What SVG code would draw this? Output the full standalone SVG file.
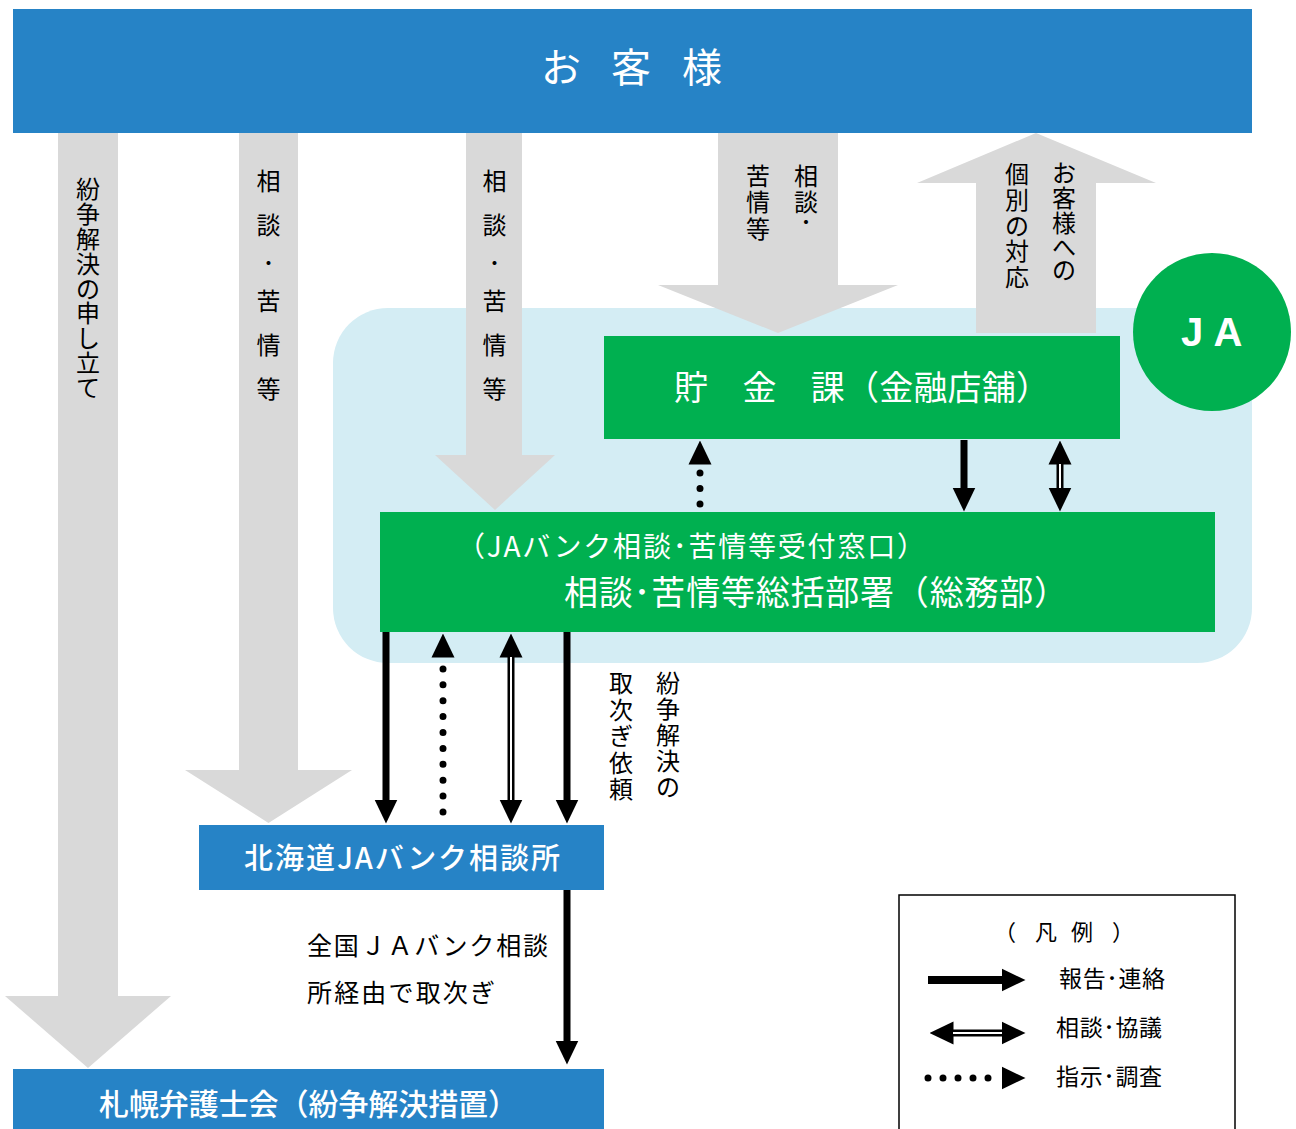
<svg xmlns="http://www.w3.org/2000/svg" width="1296" height="1129" viewBox="0 0 1296 1129">
<defs>
<style>
.t{font-family:'Noto Sans CJK JP','Noto Sans CJK SC',sans-serif;}
.w{fill:#fff}
.k{fill:#000}
.m{text-anchor:middle}
.gray{fill:#D9D9D9}
.blue{fill:#2683C6}
.green{fill:#00B050}
.sh{stroke:#000;stroke-width:7;fill:none}
.dblw{stroke:#fff;stroke-width:2;fill:none}
.dot{stroke:#000;stroke-width:7;stroke-linecap:round;fill:none}
</style>
<marker id="ah" viewBox="0 0 24 24" refX="0.5" refY="12" markerWidth="24" markerHeight="24" markerUnits="userSpaceOnUse" orient="auto-start-reverse">
<path d="M0,0.5 L24,12 L0,23.5 Z" fill="#000"/>
</marker>
</defs>
<rect width="1296" height="1129" fill="#fff"/>

<g id="ja-area">
<rect x="333" y="308" width="919" height="355" rx="55" fill="#D4EDF4"/>
</g>

<g id="customer">
<rect class="blue" x="13" y="9" width="1239" height="124"/>
<text class="t w m" font-size="40"><tspan x="561" y="82">お</tspan><tspan x="631" y="82">客</tspan><tspan x="702" y="82">様</tspan></text>
</g>

<g id="flow-arrows">
<polygon class="gray" points="58,133 118,133 118,996 171,996 88,1068 5,996 58,996"/>
<text class="t k m" font-size="24"><tspan x="88" y="198">紛</tspan><tspan x="88" y="223">争</tspan><tspan x="88" y="248">解</tspan><tspan x="88" y="273">決</tspan><tspan x="88" y="298">の</tspan><tspan x="88" y="322">申</tspan><tspan x="88" y="347">し</tspan><tspan x="88" y="372">立</tspan><tspan x="88" y="397">て</tspan></text>

<polygon class="gray" points="239,133 298,133 298,770 352,770 268.5,823 185,770 239,770"/>
<text class="t k m" font-size="24"><tspan x="268.5" y="190">相</tspan><tspan x="268.5" y="234">談</tspan><tspan x="268.5" y="272">･</tspan><tspan x="268.5" y="310">苦</tspan><tspan x="268.5" y="354">情</tspan><tspan x="268.5" y="398">等</tspan></text>

<polygon class="gray" points="466,133 522,133 522,455 555,455 495,510 435,455 466,455"/>
<text class="t k m" font-size="24"><tspan x="494.5" y="190">相</tspan><tspan x="494.5" y="234">談</tspan><tspan x="494.5" y="272">･</tspan><tspan x="494.5" y="310">苦</tspan><tspan x="494.5" y="354">情</tspan><tspan x="494.5" y="398">等</tspan></text>

<polygon class="gray" points="718,133 838,133 838,285 898,285 778,333 658,285 718,285"/>
<text class="t k m" font-size="24"><tspan x="806" y="185">相</tspan><tspan x="806" y="211">談</tspan><tspan x="806" y="231">･</tspan></text>
<text class="t k m" font-size="24"><tspan x="758" y="185">苦</tspan><tspan x="758" y="211">情</tspan><tspan x="758" y="238">等</tspan></text>

<polygon class="gray" points="1036,133 1156,183 1096,183 1096,333 976,333 976,183 917,183"/>
<text class="t k m" font-size="24"><tspan x="1064" y="182">お</tspan><tspan x="1064" y="207">客</tspan><tspan x="1064" y="232">様</tspan><tspan x="1064" y="256">へ</tspan><tspan x="1064" y="279">の</tspan></text>
<text class="t k m" font-size="24"><tspan x="1017" y="183">個</tspan><tspan x="1017" y="209">別</tspan><tspan x="1017" y="235">の</tspan><tspan x="1017" y="260">対</tspan><tspan x="1017" y="286">応</tspan></text>
</g>

<g id="ja">
<circle class="green" cx="1212" cy="332" r="79"/>
<text font-family="'Liberation Sans',Arial,sans-serif" font-weight="bold" font-size="40" class="w m"><tspan x="1192" y="346">J</tspan><tspan x="1228" y="346">A</tspan></text>
</g>

<g id="chokin">
<rect class="green" x="604" y="336" width="516" height="103"/>
<text class="t w" font-size="34" x="674" y="400" textLength="376">貯　金　課（金融店舗）</text>
</g>

<g id="soukatsu">
<rect class="green" x="380" y="512" width="835" height="120"/>
<text class="t w" font-size="28" x="457" y="557" textLength="468">（JAバンク相談･苦情等受付窓口）</text>
<text class="t w" font-size="34" x="564" y="605" textLength="504">相談･苦情等総括部署（総務部）</text>
</g>

<g id="hokkaido">
<rect class="blue" x="199" y="825" width="405" height="65"/>
<text class="t w" font-size="29" font-weight="500" x="244" y="869" textLength="316">北海道JAバンク相談所</text>
</g>

<g id="sapporo">
<rect class="blue" x="13" y="1069" width="591" height="60"/>
<text class="t w" font-size="30" font-weight="500" x="99" y="1115" textLength="419">札幌弁護士会（紛争解決措置）</text>
</g>

<g id="connectors">
<path class="dot" d="M700 504 V472" stroke-dasharray="0 15.5"/>
<path d="M700 466 V464" stroke="none" marker-end="url(#ah)"/>
<path class="sh" d="M964 440 V488" marker-end="url(#ah)"/>
<path class="sh" d="M1060 464 V488" marker-start="url(#ah)" marker-end="url(#ah)"/>
<path class="dblw" d="M1060 464 V488"/>

<path class="sh" d="M386 632 V800" marker-end="url(#ah)"/>
<path class="dot" d="M443 812 V668" stroke-dasharray="0 15.9"/>
<path d="M443 659 V657" stroke="none" marker-end="url(#ah)"/>
<path class="sh" d="M511 657 V800" marker-start="url(#ah)" marker-end="url(#ah)"/>
<path class="dblw" d="M511 657 V800"/>
<path class="sh" d="M567 632 V800" marker-end="url(#ah)"/>

<path class="sh" d="M567 890 V1041" marker-end="url(#ah)"/>
</g>

<g id="labels">
<text class="t k m" font-size="24"><tspan x="668" y="692">紛</tspan><tspan x="668" y="718">争</tspan><tspan x="668" y="744">解</tspan><tspan x="668" y="770">決</tspan><tspan x="668" y="796">の</tspan></text>
<text class="t k m" font-size="24"><tspan x="621" y="692">取</tspan><tspan x="621" y="719">次</tspan><tspan x="621" y="745">ぎ</tspan><tspan x="621" y="772">依</tspan><tspan x="621" y="798">頼</tspan></text>
<text class="t k" font-size="25" x="307" y="955" textLength="241">全国ＪＡバンク相談</text>
<text class="t k" font-size="25" x="307" y="1002" textLength="188">所経由で取次ぎ</text>
</g>

<g id="legend">
<rect x="899" y="895" width="336" height="240" fill="#fff" stroke="#000" stroke-width="1.5"/>
<text class="t k m" font-size="22"><tspan x="1005" y="940">（</tspan><tspan x="1046" y="940">凡</tspan><tspan x="1082" y="940">例</tspan><tspan x="1123" y="940">）</tspan></text>
<path d="M928 980 H1002" stroke="#000" stroke-width="8" fill="none" marker-end="url(#ah)"/>
<text class="t k" font-size="23" x="1059" y="987" textLength="106">報告･連絡</text>
<path class="sh" d="M953 1033 H1002" marker-start="url(#ah)" marker-end="url(#ah)"/>
<path class="dblw" d="M953 1033 H1002"/>
<text class="t k" font-size="23" x="1056" y="1036" textLength="106">相談･協議</text>
<path class="dot" d="M928 1078 H989" stroke-dasharray="0 15"/>
<path d="M1000 1078 H1002" stroke="none" marker-end="url(#ah)"/>
<text class="t k" font-size="23" x="1056" y="1085" textLength="106">指示･調査</text>
</g>
</svg>
